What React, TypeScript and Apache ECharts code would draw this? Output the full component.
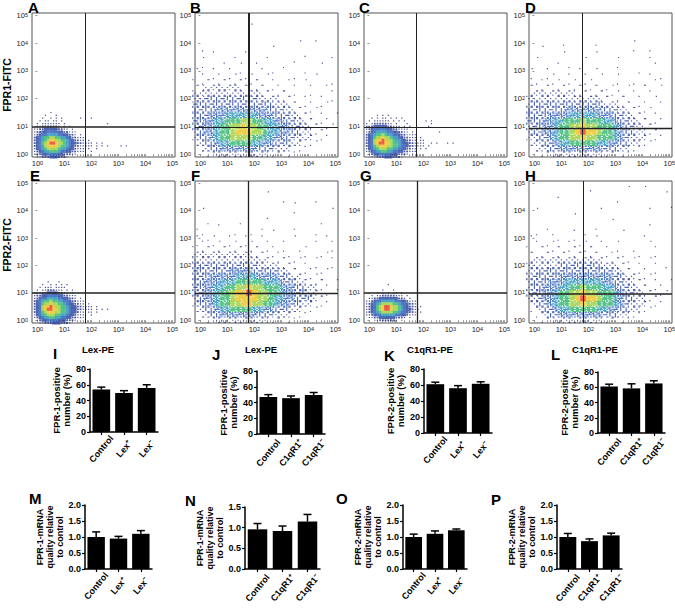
import React, { useEffect, useRef } from 'react';
import * as echarts from 'echarts';

// ---------------- flow cytometry panels (A–H) ----------------
const flowLetters = ['A', 'B', 'C', 'D', 'E', 'F', 'G', 'H'];
const flowXNames = ['', '', '', '', 'Lex-PE', 'Lex-PE', 'C1qR1-PE', 'C1qR1-PE'];
const flowYNames = ['FPR1-FITC', '', '', '', 'FPR2-FITC', '', '', ''];
const decadeTicks = [0, 1, 2, 3, 4, 5];
// gate positions (log10 units)
const gateX = [1.78, 1.8, 1.74, 1.78, 1.76, 1.76, 1.76, 1.82];
const gateY = [0.98, 0.96, 0.96, 0.95, 1.0, 1.0, 1.0, 0.98];

// density grids: digit = density level ('.' empty)
// negative-control grids: cells of 0.1 decade, x from -0.1, rows from y=1.5 down
const NEG_GRID = { x0: -0.1, yTop: 1.5, step: 0.1 };
// positive grids: cells of 0.2 decade, x from -0.2, rows from y=5.0 down
const POS_GRID = { x0: -0.2, yTop: 5.0, step: 0.2 };

const densityA = [
  '......1.............................',
  '....1...1...........................',
  '...1..1.1.1......1...1..............',
  '..1.11.11.1.........................',
  '.1.1111111.1...............1........',
  '.112222221.1.1......................',
  '1122333332211.1.....................',
  '1223344443322111....................',
  '1234455554433221.1..................',
  '2345667766554322111.................',
  '2345678877665432211.1...............',
  '2346789987765433221111.1.1..........',
  '2345788887665432211111.1.1.1....1.1.',
  '1345677776554332111.1..1............',
  '1234556665443322111..1..............',
  '1223344443322211....................',
  '.112223332221.......................',
];
const densityB = [
  '...........................',
  '...........................',
  '...........1...............',
  '...........................',
  '...........................',
  '....................1.1....',
  '.1.............1...........',
  '...1.....1..........1......',
  '..1....1.....1....1......1.',
  '.1...1...1.1....1.......1..',
  '1..1..1.1...1.1.....1......',
  '.1.11.1.11.1..1...1....1...',
  '1111111111111.1..1...1...1.',
  '1122222221111111..1..1..1..',
  '2222222222222111111..1...1.',
  '2233333333332222111.1..1.1.',
  '3333333333333332221111.1.1.',
  '3333444444444433322111.1...',
  '3334445555554443332211.1..1',
  '3344556667766554433221111..',
  '3344566778776655443322111.1',
  '2344566788877655443322111..',
  '2334566777766554433222111..',
  '1233455666655443332211.1...',
  '.12334444444333222111......',
  '..11222222222211111........',
];
const densityC = [
  '....................................',
  '....1.1.1...........................',
  '..1.1.11.1.1.1......................',
  '.1.111111.1.1.1.......1.1...........',
  '1.12222211.1...1........1...........',
  '1123333322111.1.1......1............',
  '1234444433221111....................',
  '1234555544332211.1.........1........',
  '2345667655443221111.................',
  '2346778776554322111.1...............',
  '2347889877655432211.11..............',
  '2347899887665433221111..1.1...1.1...',
  '2346788877665443221111.1............',
  '1345677766554432211.1.1.............',
  '1234556655443322111.................',
  '.123344443332221.1..................',
  '..112223332221......................',
];
const densityD = [
  '...........................',
  '...........................',
  '...........................',
  '...........................',
  '...........................',
  '......1.....1.......1......',
  '...1...............1..1....',
  '.......1.....1.............',
  '..1........1.....1....1....',
  '.....1.1........1......1...',
  '.1.1.....1...1......1......',
  '1..1.1.1..1...1..1....1.1..',
  '.11.1.11.11.1...1..1...1...',
  '111111111111111.1..1.11..1.',
  '1222222221111111.1.1..1....',
  '2222222222222211111.1...1..',
  '2333333333333322211111..1..',
  '3333333444444433322111.1...',
  '3333444455555444332211.1...',
  '3334455666766655433221111..',
  '2334456677877666543322111..',
  '2334456678988766543322111..',
  '2233456677877666543222111..',
  '1223345566666554433221.1...',
  '.12233444444443332211......',
  '..11122222222211111........',
];
const densityE = [
  '....................................',
  '.....1...1..........................',
  '...1..1.1.1.1.......................',
  '..1.111.1111........................',
  '.1.11222111.1.1.....................',
  '1112233332211.1.....................',
  '1223344443322111....................',
  '1234455554433221.1..................',
  '2345667665544322111.................',
  '2346778776654332211.1...............',
  '2347889877665433221111.1............',
  '2347899887665433221111.1.1.1........',
  '2346788877665433211.11.1............',
  '1345677766554332111..1..............',
  '1234556655443322111.................',
  '.123344443332221....................',
  '..112223332221......................',
];
const densityF = [
  '...........................',
  '...........................',
  '..............1............',
  '................1.....1....',
  '...................1.......',
  '..1...............1.......1',
  '.............1.............',
  '..1.....1..............1...',
  '1...1.......1.....1........',
  '.1.....1..1....1......1....',
  '1.1.1.1..1..1......1....1..',
  '11.1.11.11.1.1..1.....1..1.',
  '111111111111111.1..1.1...1.',
  '2222222222211111.1..1..1.1.',
  '2222222222222211111.1..1.1.',
  '3333333333332222111.1.1..1.',
  '3333333444433333221111.1.1.',
  '3334444455554444332211.1...',
  '3344455566666555433221111.1',
  '3344556677877666544332211.1',
  '3344566788987766544332211..',
  '2344566788887765544333211..',
  '2334566778877665443322111..',
  '1233455666655443332211.1...',
  '.12334444444333222111......',
  '..11222222222211111........',
];
const densityG = [
  '....................................',
  '....................................',
  '........1...........................',
  '....................................',
  '......1...1.........................',
  '....1.1.1.11.1......................',
  '..1.1122222111.1....................',
  '.11223333333221.1...................',
  '1123445555544332111.................',
  '1234567777665443221.................',
  '1234678998776543221.1...............',
  '12346789987765433211................',
  '1234567777665443221.1...............',
  '1123445555544332111.................',
  '.11223333332221.1...................',
  '...112222221.1......................',
  '....................................',
];
const densityH = [
  '...........................',
  '...........1.......1..1....',
  '..........................1',
  '.....1..........1..........',
  '..........................1',
  '..1..........1........1....',
  '.........1.................',
  '................1..........',
  '...1........1.........1....',
  '.1..1...1.1.......1........',
  '1....1..1....1.......1.....',
  '.1.1.1.1.1.1.1...1.....1...',
  '1.11111111111.1.1..1...1...',
  '1111111111111111.1..1..1...',
  '1222222222222211111.1..1...',
  '2222223333333322211.1..1.1.',
  '2233333333333333221111.1...',
  '2333334444444444332211.1...',
  '2333444555555544332211.1..1',
  '2334445566766655433221111..',
  '2334456677877666543322111.1',
  '2234456678988766543322111..',
  '1233456677877666543222111..',
  '1123345566666554433221.1...',
  '.11233444444443332211......',
  '..11122222222211111........',
];
const flowDensity = [densityA, densityB, densityC, densityD, densityE, densityF, densityG, densityH];
const flowIsFine = [true, false, true, false, true, false, true, false];

// ---------------- bar panels (I–P) ----------------
const barLetters = ['I', 'J', 'K', 'L', 'M', 'N', 'O', 'P'];
const lexCats = ['Control', 'Lex⁺', 'Lex⁻'];
const c1qCats = ['Control', 'C1qR1⁺', 'C1qR1⁻'];
const barCats = [lexCats, c1qCats, lexCats, c1qCats, lexCats, c1qCats, lexCats, c1qCats];
const meansI = [54, 49.5, 56];
const errI = [3, 3, 4];
const meansJ = [47, 45.5, 49.5];
const errJ = [3, 2.8, 3.2];
const meansK = [61, 56, 61.5];
const errK = [2.5, 3.2, 2.5];
const meansL = [61, 58.5, 65];
const errL = [3, 6, 3.5];
const meansM = [1.0, 0.95, 1.1];
const errM = [0.16, 0.07, 0.1];
const meansN = [0.96, 0.92, 1.15];
const errN = [0.14, 0.12, 0.17];
const meansO = [1.0, 1.1, 1.21];
const errO = [0.09, 0.09, 0.04];
const meansP = [1.0, 0.87, 1.05];
const errP = [0.11, 0.07, 0.07];
const barMeans = [meansI, meansJ, meansK, meansL, meansM, meansN, meansO, meansP];
const barErrs = [errI, errJ, errK, errL, errM, errN, errO, errP];
const barYNames = [
  'FPR-1-positive\nnumber (%)',
  'FPR-1-positive\nnumber (%)',
  'FPR-2-positive\nnumber (%)',
  'FPR-2-positive\nnumber (%)',
  'FPR-1-mRNA\nquality relative\nto control',
  'FPR-1-mRNA\nquality relative\nto control',
  'FPR-2-mRNA\nquality relative\nto control',
  'FPR-2-mRNA\nquality relative\nto control',
];
const barYMax = [80, 80, 80, 80, 2, 1.5, 2, 2];
const barYStep = [20, 20, 20, 20, 0.5, 0.5, 0.5, 0.5];

// ---------------- layout & style ----------------
const FONT = 'Liberation Sans, Arial, Helvetica, sans-serif';
const flowLeft = [32, 195, 364, 529];
const flowTop = [13, 181];
const flowW = 143;
const flowH = [144, 142];
const flowLetterPos = [
  [28, 0], [190, 0], [359, 0], [525, 0],
  [30, 168], [191, 168], [360, 168], [525, 168],
];
const barBoxes = [
  [90, 369, 68, 63], [257, 371, 68, 63], [424, 369, 68, 64], [598, 372, 67, 61],
  [85, 505, 67, 64], [245, 507, 75, 62], [403, 505, 64, 64], [557, 505, 65, 64],
];
const barLetterPos = [
  [53, 346], [212, 347], [384, 348], [551, 347],
  [29, 491], [185, 493], [336, 491], [491, 492],
];
const vGateW = [1, 2, 1, 1, 1, 1.3, 1.3, 1];
const hGateW = [1.7, 1, 1, 1.3, 1.7, 1.3, 1.7, 1.7];
const levelColors = ['#ffffff', '#1b2470', '#1e2d88', '#22409e', '#2458b8', '#1f8fb8', '#2fb56c', '#98cf38', '#eac21e', '#e5381c'];

// log-decade tick positions (major + minor)
const logTicks: number[] = [];
for (let n = 0; n <= 5; n++) {
  for (let k = 1; k <= 9; k++) {
    const t = n + Math.log10(k);
    if (t <= 5.05) logTicks.push(+t.toFixed(4));
  }
}

// speckle symbols: a 5x5 lattice of small dots, filled in a fixed order
const LATTICE_ORDER = [0, 12, 24, 4, 20, 7, 17, 2, 22, 10, 14, 6, 18, 8, 16, 1, 23, 11, 13, 3, 21, 5, 19, 9, 15];
const LEVEL_DOTS = [0, 1, 4, 8, 13, 17, 20, 22, 24, 25];
const CORNERS = 'M0 0h0.01v0.01h-0.01z M10.09 10.09h0.01v0.01h-0.01z';
function speckle(level: number, variant: number) {
  const parts = [CORNERS];
  for (let k = 0; k < LEVEL_DOTS[level]; k++) {
    const p = LATTICE_ORDER[k];
    let r = Math.floor(p / 5);
    let c = p % 5;
    if (variant === 1) { const t = r; r = c; c = 4 - t; }
    else if (variant === 2) { r = 4 - r; c = 4 - c; }
    parts.push(`M${c * 2} ${r * 2}h2.1v2.1h-2.1z`);
  }
  return 'path://' + parts.join(' ');
}
const speckleSymbols = [0, 1, 2].map((v) => levelColors.map((_, lv) => (lv === 0 ? '' : speckle(lv, v))));

function flowData(rows: string[], fine: boolean) {
  const g = fine ? NEG_GRID : POS_GRID;
  const cells: { lv: number; x: number; y: number; v: number }[] = [];
  rows.forEach((row, i) => {
    for (let c = 0; c < row.length; c++) {
      const lv = row.charCodeAt(c) - 48;
      if (lv < 1 || lv > 9) continue;
      cells.push({ lv, v: (c * 2 + i) % 3, x: +(g.x0 + c * g.step).toFixed(3), y: +(g.yTop - i * g.step).toFixed(3) });
    }
  });
  cells.sort((a, b) => a.lv - b.lv);
  return cells.map(({ lv, x, y, v }) => {
    let symbol = 'rect';
    let size: any;
    if (fine) {
      size = lv === 1 ? 1.2 : lv === 2 ? 1.8 : [2.9, 3.0];
    } else {
      symbol = speckleSymbols[v][lv];
      size = [5.5, 5.6];
    }
    return { value: [x, y], symbol, symbolSize: size, itemStyle: { color: levelColors[lv] } };
  });
}

const supRich = {
  b: { fontSize: 7.5, color: '#222', fontFamily: FONT, lineHeight: 7 },
  s: { fontSize: 5.5, color: '#222', fontFamily: FONT, verticalAlign: 'top', lineHeight: 5 },
};
const decadeFmt = (v: number) => (Number.isInteger(v) ? `{b|10}{s|${v}}` : '');

function buildOption() {
  const grid: any[] = [];
  const xAxis: any[] = [];
  const yAxis: any[] = [];
  const series: any[] = [];
  const graphic: any[] = [];

  flowLetters.forEach((L, k) => {
    const col = k % 4;
    const row = Math.floor(k / 4);
    grid.push({
      left: flowLeft[col], top: flowTop[row], width: flowW, height: flowH[row],
      show: true, borderColor: '#555', borderWidth: 1, backgroundColor: '#fff',
      containLabel: false, outerBoundsMode: 'none',
    });
    xAxis.push({
      gridIndex: k, type: 'value', min: -0.2, max: 5.1,
      axisLine: { show: false },
      splitLine: { show: false },
      axisTick: { show: true, length: 2, lineStyle: { color: '#666', width: 0.7 }, customValues: logTicks },
      axisLabel: { customValues: decadeTicks, formatter: decadeFmt, rich: supRich, margin: 3 },
      name: flowXNames[k], nameLocation: 'middle', nameGap: 21,
      nameTextStyle: { fontSize: 9.5, fontWeight: 'bold', color: '#000', fontFamily: FONT, padding: [0, 11, 0, 0] },
    });
    yAxis.push({
      gridIndex: k, type: 'value', min: -0.1, max: 5.08,
      axisLine: { show: false },
      splitLine: { show: false },
      axisTick: { show: true, length: 2, lineStyle: { color: '#666', width: 0.7 }, customValues: decadeTicks },
      axisLabel: { customValues: decadeTicks, formatter: decadeFmt, rich: supRich, margin: 4 },
      name: flowYNames[k], nameLocation: 'middle', nameGap: 14,
      nameTextStyle: {
        fontSize: 10.5, fontWeight: 'bold', color: '#000', fontFamily: FONT,
        padding: row === 1 ? [0, 0, 0, 14] : [0, 0, 0, 0],
      },
    });
    series.push({
      type: 'scatter', xAxisIndex: k, yAxisIndex: k, clip: true, silent: true,
      data: flowData(flowDensity[k], flowIsFine[k]),
      markLine: {
        silent: true, symbol: 'none', label: { show: false }, animation: false,
        data: [
          { xAxis: gateX[k], lineStyle: { color: '#222', width: vGateW[k], type: 'solid' } },
          { yAxis: gateY[k], lineStyle: { color: '#222', width: hGateW[k], type: 'solid' } },
        ],
      },
    });
    graphic.push({
      type: 'text', x: flowLetterPos[k][0], y: flowLetterPos[k][1], z: 100,
      style: { text: L, font: `bold 15px ${FONT}`, fill: '#000', verticalAlign: 'top', align: 'left' },
    });
  });

  barLetters.forEach((L, j) => {
    const gi = 8 + j;
    const [left, top, width, height] = barBoxes[j];
    const decimals = barYMax[j] > 10 ? 0 : 1;
    const isLex = barCats[j] === lexCats;
    grid.push({ left, top, width, height, containLabel: false, outerBoundsMode: 'none' });
    xAxis.push({
      gridIndex: gi, type: 'category', data: barCats[j],
      axisLine: { show: true, lineStyle: { color: '#000', width: 1.5 } },
      axisTick: { show: true, alignWithLabel: true, length: 3, lineStyle: { color: '#000', width: 1.2 } },
      axisLabel: {
        interval: 0, rotate: 50, fontSize: 9, fontWeight: 'bold', color: '#000', fontFamily: FONT,
        margin: isLex ? 17 : 19, align: 'center', verticalAlign: 'middle',
      },
      splitLine: { show: false },
    });
    yAxis.push({
      gridIndex: gi, type: 'value', min: 0, max: barYMax[j], interval: barYStep[j],
      axisLine: { show: true, lineStyle: { color: '#000', width: 1.5 } },
      axisTick: { show: true, length: 3, lineStyle: { color: '#000', width: 1.2 } },
      axisLabel: {
        fontSize: 9, fontWeight: 'bold', color: '#000', fontFamily: FONT, margin: 4,
        formatter: (v: number) => v.toFixed(decimals),
      },
      splitLine: { show: false },
      name: barYNames[j], nameLocation: 'middle', nameGap: decimals ? 8 : 9,
      nameTextStyle: {
        fontSize: decimals ? 9 : 9.5, fontWeight: 'bold', color: '#000', fontFamily: FONT,
        lineHeight: decimals ? 10 : 10.5,
      },
    });
    series.push({
      type: 'bar', xAxisIndex: gi, yAxisIndex: gi, data: barMeans[j],
      barWidth: '78%', itemStyle: { color: '#000' }, silent: true,
    });
    series.push({
      type: 'custom', xAxisIndex: gi, yAxisIndex: gi, silent: true, z: 5,
      encode: { x: 0, y: [1, 2] },
      data: barMeans[j].map((m, i) => [i, m, m + barErrs[j][i]]),
      renderItem: (params: any, api: any) => {
        const base = api.coord([api.value(0), api.value(1)]);
        const topPt = api.coord([api.value(0), api.value(2)]);
        const half = 4;
        return {
          type: 'group',
          children: [
            { type: 'line', shape: { x1: base[0], y1: base[1], x2: base[0], y2: topPt[1] }, style: { stroke: '#000', lineWidth: 1.5 } },
            { type: 'line', shape: { x1: base[0] - half, y1: topPt[1], x2: base[0] + half, y2: topPt[1] }, style: { stroke: '#000', lineWidth: 1.5 } },
          ],
        };
      },
    });
    graphic.push({
      type: 'text', x: barLetterPos[j][0], y: barLetterPos[j][1], z: 100,
      style: { text: L, font: `bold 15px ${FONT}`, fill: '#000', verticalAlign: 'top', align: 'left' },
    });
  });

  return {
    animation: false,
    backgroundColor: '#fff',
    textStyle: { fontFamily: FONT },
    grid, xAxis, yAxis, series, graphic,
  };
}

export default function App() {
  const ref = useRef<HTMLDivElement>(null);
  useEffect(() => {
    document.body.style.margin = '0';
    if (!ref.current) return;
    const chart = echarts.init(ref.current, undefined, { renderer: 'svg' });
    chart.setOption(buildOption() as any);
    return () => chart.dispose();
  }, []);
  return <div ref={ref} style={{ width: 675, height: 609 }} />;
}
